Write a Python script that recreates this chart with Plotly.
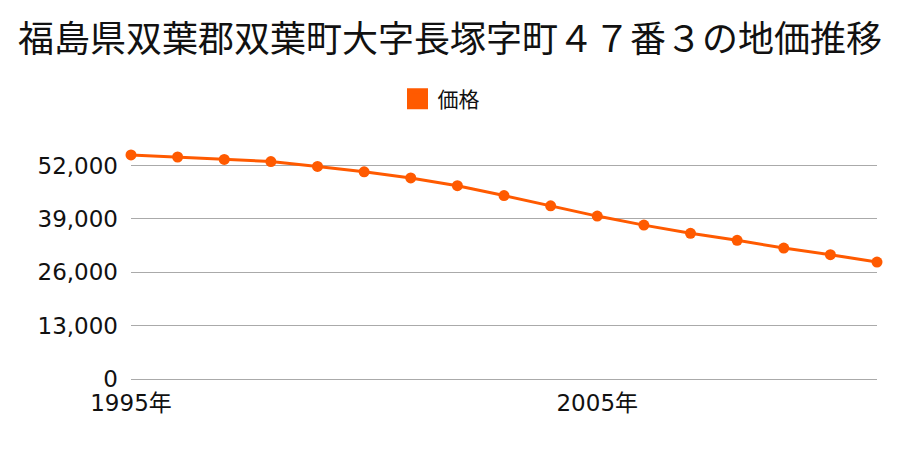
import plotly.graph_objects as go

years = list(range(1995, 2012))
prices = [54600, 54100, 53500, 53000, 51800, 50500, 49000, 47100, 44700,
          42200, 39700, 37500, 35500, 33800, 31900, 30300, 28500]
y_ticks = [0, 13000, 26000, 39000, 52000]
y_tick_text = ["0", "13,000", "26,000", "39,000", "52,000"]
x_ticks = [1995, 2005]
x_tick_text = ["1995年", "2005年"]
series_name = "価格"
title_text = "福島県双葉郡双葉町大字長塚字町４７番３の地価推移"

color = "#ff5a00"
tick_font = dict(family="DejaVu Sans, Noto Sans CJK JP", size=23, color="#111")

fig = go.Figure()
fig.add_trace(go.Scatter(
    x=years, y=prices, mode="lines+markers", name=series_name,
    line=dict(color=color, width=3),
    marker=dict(color=color, size=11),
    showlegend=False, cliponaxis=False,
))
fig.add_trace(go.Scatter(
    x=[None], y=[None], mode="markers", name=series_name,
    marker=dict(color=color, size=24, symbol="square",
                line=dict(color=color, width=5)),
    showlegend=True,
))

fig.update_layout(
    width=900, height=450,
    paper_bgcolor="white", plot_bgcolor="white",
    margin=dict(l=131, r=23, t=141, b=71),
    title=dict(text=title_text, x=0.5, xanchor="center", y=1 - 39 / 450,
               yanchor="middle", yref="container",
               font=dict(family="Noto Sans CJK JP", size=36, color="#111")),
    legend=dict(orientation="h", x=0.49, xanchor="center", xref="container",
                y=1 - 99 / 450, yanchor="middle", yref="container",
                font=dict(family="Noto Sans CJK JP", size=21, color="#111"),
                itemsizing="trace"),
    xaxis=dict(range=[1995, 2011], tickvals=x_ticks, ticktext=x_tick_text,
               showgrid=False, zeroline=False, showline=False, ticks="",
               tickfont=tick_font, ticklabelstandoff=8),
    yaxis=dict(range=[0, 58000], tickvals=y_ticks, ticktext=y_tick_text,
               showgrid=True, gridcolor="#aaaaaa", gridwidth=1,
               zeroline=True, zerolinecolor="#aaaaaa", zerolinewidth=1,
               showline=False, ticks="",
               tickfont=tick_font, ticklabelstandoff=12),
)

fig.write_html("out.html")
